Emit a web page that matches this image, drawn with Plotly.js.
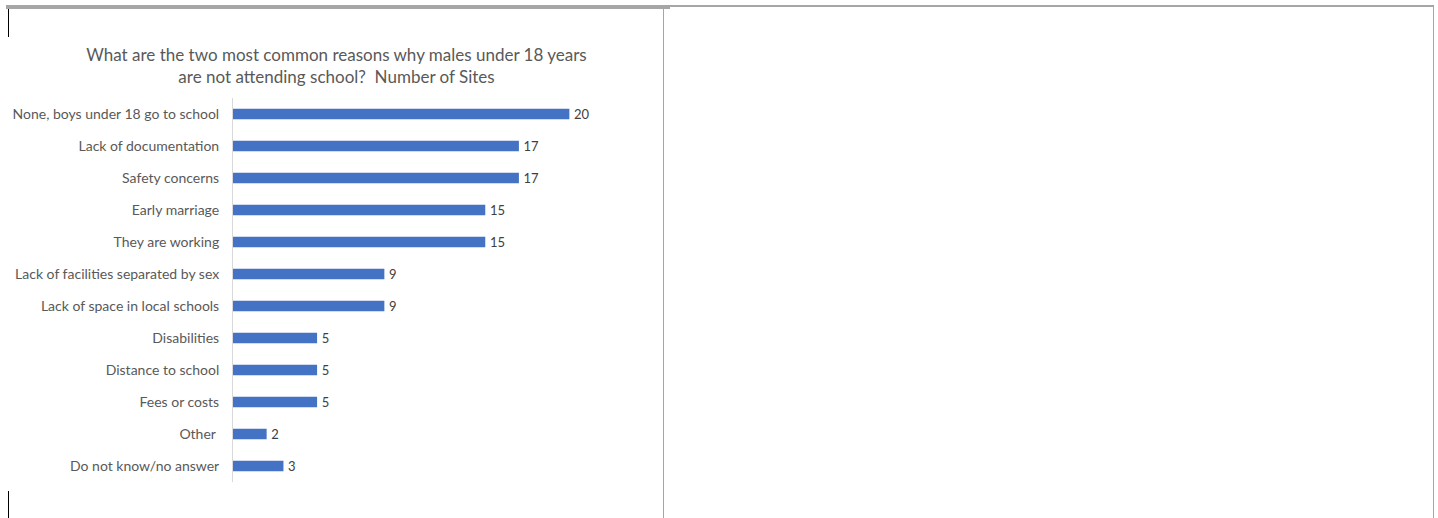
<!DOCTYPE html>
<html>
<head>
<meta charset="utf-8">
<script src="https://cdn.plot.ly/plotly-3.0.1.min.js"></script>
<style>
  html, body { margin: 0; padding: 0; background: #fff; width: 1438px; height: 518px; overflow: hidden; }
  #chart { position: absolute; left: 0; top: 0; width: 1438px; height: 518px; }
  .ln { position: absolute; }
</style>
</head>
<body>
<div id="chart"></div>
<!-- document/table frame -->
<div class="ln" style="left:6px; top:5px; width:664px; height:4px; background:#a6a6a6;"></div>
<div class="ln" style="left:670px; top:5px; width:764px; height:2px; background:#a6a6a6;"></div>
<div class="ln" style="left:663px; top:9px; width:1px; height:509px; background:#a6a6a6;"></div>
<div class="ln" style="left:1433px; top:5px; width:1px; height:513px; background:#a6a6a6;"></div>
<div class="ln" style="left:8px; top:9px; width:1px; height:28px; background:#000;"></div>
<div class="ln" style="left:8px; top:491px; width:1px; height:27px; background:#000;"></div>
<script>
const categories = [
  "None, boys under 18 go to school",
  "Lack of documentation",
  "Safety concerns",
  "Early marriage",
  "They are working",
  "Lack of facilities separated by sex",
  "Lack of space in local schools",
  "Disabilities",
  "Distance to school",
  "Fees or costs",
  "Other ",
  "Do not know/no answer"
];
const sites = [20, 17, 17, 15, 15, 9, 9, 5, 5, 5, 2, 3];
const chartTitle = "What are the two most common reasons why males under 18 years<br>are not attending school?  Number of Sites";

const font = "Lato, 'Open Sans', sans-serif";

const trace = {
  type: "bar",
  orientation: "h",
  x: sites,
  y: categories,
  texttemplate: "\u2009%{x}",
  textposition: "outside",
  constraintext: "none",
  textfont: { family: font, size: 13, color: "#404040" },
  cliponaxis: false,
  marker: { color: "#4472C4" },
  hoverinfo: "x+y"
};

const layout = {
  width: 1438,
  height: 518,
  margin: { l: 233, r: 835, t: 98, b: 36, pad: 0 },
  paper_bgcolor: "rgba(0,0,0,0)",
  plot_bgcolor: "rgba(0,0,0,0)",
  showlegend: false,
  bargap: 0.666,
  title: {
    text: chartTitle,
    font: { family: font, size: 17, color: "#595959" },
    xref: "container", x: 336.5 / 1438, xanchor: "center",
    yref: "container", y: 1 - 61 / 518, yanchor: "top"
  },
  xaxis: {
    range: [0, 22],
    visible: false,
    fixedrange: true
  },
  yaxis: {
    type: "category",
    autorange: "reversed",
    showline: true,
    linecolor: "#d9d9d9",
    linewidth: 1,
    showgrid: false,
    zeroline: false,
    ticks: "",
    ticklabelstandoff: 10,
    tickfont: { family: font, size: 14, color: "#595959" },
    fixedrange: true
  }
};

Plotly.newPlot("chart", [trace], layout, { displayModeBar: false, staticPlot: true });
</script>
</body>
</html>
